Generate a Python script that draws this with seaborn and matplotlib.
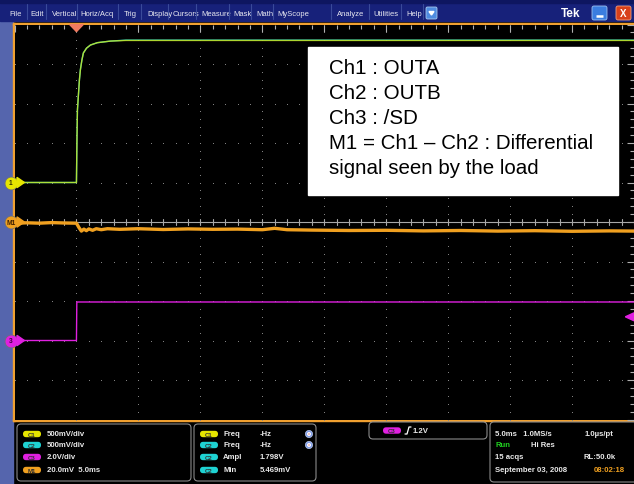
import numpy as np
import pandas as pd
import matplotlib
matplotlib.use("Agg")
import matplotlib.pyplot as plt
import seaborn as sns
from matplotlib.patches import Rectangle, FancyBboxPatch, Circle, Polygon

sns.set_theme(style="dark")
plt.rcParams["font.family"] = ["Liberation Sans", "DejaVu Sans"]

# ---- acquisition data ----
# time in ms (5 ms/div, trigger 1 div from the left edge)
ch1_t = [-5, 0.0, 0.04, 0.08, 0.16, 0.24, 0.32, 0.44, 0.56, 0.81, 1.13, 1.69, 2.74, 4.0, 45]
ch1_v = [0.0, 0.0, 0.54, 0.92, 1.11, 1.30, 1.43, 1.55, 1.64, 1.70, 1.74, 1.77, 1.79, 1.798, 1.798]
ch2_t = [-5, 0.0, 0.04, 0.08, 0.16, 0.24, 0.32, 0.44, 0.56, 0.81, 1.13, 1.69, 2.74, 4.0, 45]
ch2_v = [0.0, 0.0, 0.54, 0.92, 1.11, 1.30, 1.43, 1.55, 1.64, 1.70, 1.74, 1.77, 1.79, 1.802, 1.802]
ch3_t = [-5, 0.0, 0.03, 45]
ch3_v = [0.0, 0.0, 1.95, 1.95]
m1_t = [-5, -4, -3, -2, -1, 0, 0.2, 0.4, 0.6, 0.8, 1.0, 1.3, 1.6, 2.0, 2.5, 3.5, 5, 7, 9, 11,
        13, 15, 16, 17, 19, 22, 25, 28, 31, 34, 37, 40, 43, 45]
m1_mv = [-0.7, -0.4, -0.6, -0.3, -0.5, -0.6, -2.8, -4.6, -3.6, -4.4, -3.5, -4.2, -3.4, -3.9,
         -3.4, -3.7, -3.4, -3.8, -3.5, -3.7, -3.6, -3.9, -3.2, -3.9, -4.1, -4.3, -4.2, -4.5,
         -4.3, -4.6, -4.4, -4.7, -4.5, -4.6]

# vertical settings: (volts or mV per div, position in div)
ch1_scale, ch1_pos = 0.5, 1.0
ch2_scale, ch2_pos = 0.5, 1.0
ch3_scale, ch3_pos = 2.0, -3.0
m1_scale, m1_pos = 20.0, 0.0
trig_level = 1.2

# ---- readouts ----
menu_items = ["File", "Edit", "Vertical", "Horiz/Acq", "Trig", "Display", "Cursors",
              "Measure", "Mask", "Math", "MyScope", "Analyze", "Utilities", "Help"]
menu_x = [9, 30, 52, 80, 124, 147, 173, 201, 233, 256, 277, 337, 373, 406]
legend_lines = ["Ch1 : OUTA", "Ch2 : OUTB", "Ch3 : /SD",
                "M1 = Ch1 \u2013 Ch2 : Differential", "signal seen by the load"]
vert_tags = ["C1", "C2", "C3", "M1"]
vert_text = ["500mV/div", "500mV/div", "2.0V/div", "20.0mV  5.0ms"]
meas_tags = ["C1", "C2", "C2", "C2"]
meas_name = ["Freq", "Freq", "Ampl", "Min"]
meas_val = ["-Hz", "-Hz", "1.798V", "5.469mV"]

YEL, CYA, MAG, ORA = "#e6e600", "#1ed2d2", "#e020e0", "#f0a020"
tag_col = {"C1": YEL, "C2": CYA, "C3": MAG, "M1": ORA}

W, H = 634, 485
fig = plt.figure(figsize=(W / 100, H / 100), dpi=100)
fig.patch.set_facecolor("black")

def pixel_axes(z):
    a = fig.add_axes([0, 0, 1, 1], zorder=z)
    a.set_xlim(0, W)
    a.set_ylim(H, 0)
    a.axis("off")
    a.patch.set_alpha(0)
    return a

# chrome layer in pixel coordinates
ui = pixel_axes(0)
ui.add_patch(Rectangle((0, 0), W, H, color="black", zorder=0))
ui.add_patch(Rectangle((0, 0), 13, H, color="#5565ad", zorder=1))
ui.add_patch(Rectangle((0, 0), W, 22, color="#17217a", zorder=1))
ui.add_patch(Rectangle((0, 0), W, 4, color="#0e1660", zorder=1))
ui.add_patch(Rectangle((12.5, 23.5), W, 2, color="#f0a030", zorder=3))
ui.add_patch(Rectangle((12.5, 23.5), 2, 398, color="#f0a030", zorder=3))
ui.add_patch(Rectangle((12.5, 419.5), W, 2, color="#f0a030", zorder=3))

for name, x in zip(menu_items, menu_x):
    ui.text(x, 15, name, color="#e8e8f0", fontsize=5.5, ha="left", va="center", zorder=4)
for x in [27, 46, 77, 118, 141, 168, 196, 229, 251, 273, 331, 369, 401, 423]:
    ui.plot([x, x], [5, 20], color="#3a4a9a", lw=0.8, zorder=4)
ui.add_patch(FancyBboxPatch((426, 8), 11, 12, boxstyle="round,pad=0,rounding_size=1.5",
                            fc="#4f8ce0", ec="#a8c8f0", lw=0.6, zorder=4))
ui.add_patch(Polygon([[429, 12.5], [434, 12.5], [431.5, 16]], color="white", zorder=5))
ui.text(561, 14, "Tek", color="white", fontsize=8.5, fontweight="bold", ha="left",
        va="center", zorder=4)
ui.add_patch(FancyBboxPatch((592, 7), 15, 14, boxstyle="round,pad=0,rounding_size=2",
                            fc="#3b7de0", ec="#9cc0f0", lw=0.6, zorder=4))
ui.plot([596, 603], [17, 17], color="white", lw=1.8, zorder=5, solid_capstyle="butt")
ui.add_patch(FancyBboxPatch((616, 7), 15, 14, boxstyle="round,pad=0,rounding_size=2",
                            fc="#d8401a", ec="#f0a080", lw=0.6, zorder=4))
ui.text(623.5, 14, "X", color="white", fontsize=7, fontweight="bold", ha="center",
        va="center", zorder=5)

# ---- graticule ----
x0, x1, y0, y1 = 14.5, W, 25.5, 420.5
ax = fig.add_axes([x0 / W, (H - y1) / H, (x1 - x0) / W, (y1 - y0) / H], zorder=1)
ax.set_facecolor("black")
ax.set_xlim(-5, 45)
ax.set_ylim(-5, 5)
for s in ax.spines.values():
    s.set_visible(False)
ax.set_xticks(np.arange(-5, 45.1, 5))
ax.set_yticks(np.arange(-5, 5.1, 1))
ax.set_xticks(np.arange(-5, 45.1, 1), minor=True)
ax.set_yticks(np.arange(-5, 5.1, 0.2), minor=True)
ax.tick_params(which="both", direction="in", colors="#b0b0b0", top=True, right=True,
               labelbottom=False, labelleft=False, pad=0)
ax.tick_params(which="major", length=5, width=0.8)
ax.tick_params(which="minor", length=3, width=0.8)
ax.grid(False)

gx = np.arange(0, 45, 5)
gy = np.arange(-4, 5, 1)
mx = np.arange(-5, 45.01, 1)
my = np.arange(-5, 5.01, 0.2)
for x in gx:
    ax.scatter(np.full_like(my, x), my, s=0.5, color="#8a8a8a", lw=0, zorder=1)
for y in gy:
    if y != 0:
        ax.scatter(mx, np.full_like(mx, y), s=0.5, color="#8a8a8a", lw=0, zorder=1)
ax.axhline(0, color="#a8a8a8", lw=0.8, zorder=1)
for x in mx:
    ax.plot([x, x], [-0.07, 0.07], color="#a8a8a8", lw=0.8, zorder=1)

# ---- traces ----
def to_div(values, scale, pos):
    return [pos + v / scale for v in values]

traces = [
    (m1_t, to_div(m1_mv, m1_scale, m1_pos), ORA, 2.4, 1.0),
    (ch3_t, to_div(ch3_v, ch3_scale, ch3_pos), MAG, 1.0, 1.0),
    (ch2_t, to_div(ch2_v, ch2_scale, ch2_pos), CYA, 1.0, 1.0),
    (ch1_t, to_div(ch1_v, ch1_scale, ch1_pos), YEL, 1.0, 0.72),
]
for i, (t, d, c, lw, a) in enumerate(traces):
    df = pd.DataFrame({"t": t, "div": d})
    sns.lineplot(data=df, x="t", y="div", ax=ax, color=c, lw=lw, alpha=a,
                 estimator=None, sort=False, zorder=3 + i)
ax.set_xlabel("")
ax.set_ylabel("")

# trigger position and level markers
ax.add_patch(Polygon([[-0.55, 5.0], [0.55, 5.0], [0, 4.82]], closed=True, color="#f07a60",
                     clip_on=False, zorder=8))
lvl = ch3_pos + trig_level / ch3_scale
ax.add_patch(Polygon([[44.3, lvl], [45.0, lvl + 0.1], [45.0, lvl - 0.1]], closed=True,
                     color=MAG, clip_on=False, zorder=8))

# channel ground markers on the left edge
for label, pos, col, tcol in [("1", ch1_pos, YEL, "#303000"), ("M1", m1_pos, ORA, "#402000"),
                              ("3", ch3_pos, MAG, "#400040")]:
    ax.scatter([-5.3], [pos], s=85, color=col, ec="#707070", lw=0.5, clip_on=False, zorder=9)
    ax.add_patch(Polygon([[-4.8, pos + 0.13], [-4.8, pos - 0.13], [-4.2, pos]],
                         closed=True, color=col, clip_on=False, zorder=9))
    ax.text(-5.3, pos, label, color=tcol, fontsize=4.8, ha="center", va="center",
            fontweight="bold", clip_on=False, zorder=10)

# annotation box over the graticule
ov = pixel_axes(2)
ov.add_patch(Rectangle((308, 48), 310, 148, color="white", zorder=10))
for k, line in enumerate(legend_lines):
    ov.text(329, 68 + 25.2 * k, line, color="black", fontsize=14.8, ha="left",
            va="center", zorder=11)

# ---- readout panel ----
def box(x, y, w, h):
    ui.add_patch(FancyBboxPatch((x, y), w, h, boxstyle="round,pad=0,rounding_size=4",
                                fc="black", ec="#8a8a8a", lw=0.8, zorder=4))

def pill(x, y, tag, w=18):
    ui.add_patch(FancyBboxPatch((x, y - 3.2), w, 6.4, boxstyle="round,pad=0,rounding_size=3.2",
                                fc=tag_col[tag], ec="none", zorder=5))
    ui.text(x + w / 2, y + 0.3, tag, color="#303030", fontsize=4.3, fontweight="bold",
            ha="center", va="center", zorder=6)

box(17, 425, 174, 57)
box(194, 425, 122, 57)
box(369, 423, 118, 17)
box(490, 423, 150, 60)

rows = [435, 446, 458, 471]
txt = dict(color="#e8e8e8", fontsize=5.6, fontweight="bold", va="center", zorder=6)
for y, tag, s in zip(rows, vert_tags, vert_text):
    pill(23, y, tag)
    ui.text(47, y, s, ha="left", **txt)
for k, (y, tag, n, v) in enumerate(zip(rows, meas_tags, meas_name, meas_val)):
    pill(200, y, tag)
    ui.text(223, y, n, ha="left", **txt)
    ui.text(260, y, v, ha="left", **txt)
    if k < 2:
        ui.add_patch(Circle((309, y), 3.6, fc="#7f9be8", ec="#c0d0f0", lw=0.5, zorder=6))
        ui.add_patch(Circle((309, y), 1.3, fc="#d03030", zorder=7))

pill(383, 431.5, "C3")
ui.plot([405, 407, 409, 411], [435, 435, 428, 428], color="white", lw=0.9, zorder=6)
ui.text(413, 431.5, "1.2V", ha="left", **txt)

ui.text(495, 435, "5.0ms   1.0MS/s", ha="left", **txt)
ui.text(585, 435, "1.0\u00b5s/pt", ha="left", **txt)
ui.text(495, 446, "Run", ha="left", **{**txt, "color": "#20d020"})
ui.text(531, 446, "Hi Res", ha="left", **txt)
ui.text(495, 458, "15 acqs", ha="left", **txt)
ui.text(583, 458, "RL:50.0k", ha="left", **txt)
ui.text(495, 471, "September 03, 2008", ha="left", **txt)
ui.text(594, 471, "08:02:18", ha="left", **{**txt, "color": "#f0a020"})

fig.savefig("out.png", dpi=100, facecolor="black")
